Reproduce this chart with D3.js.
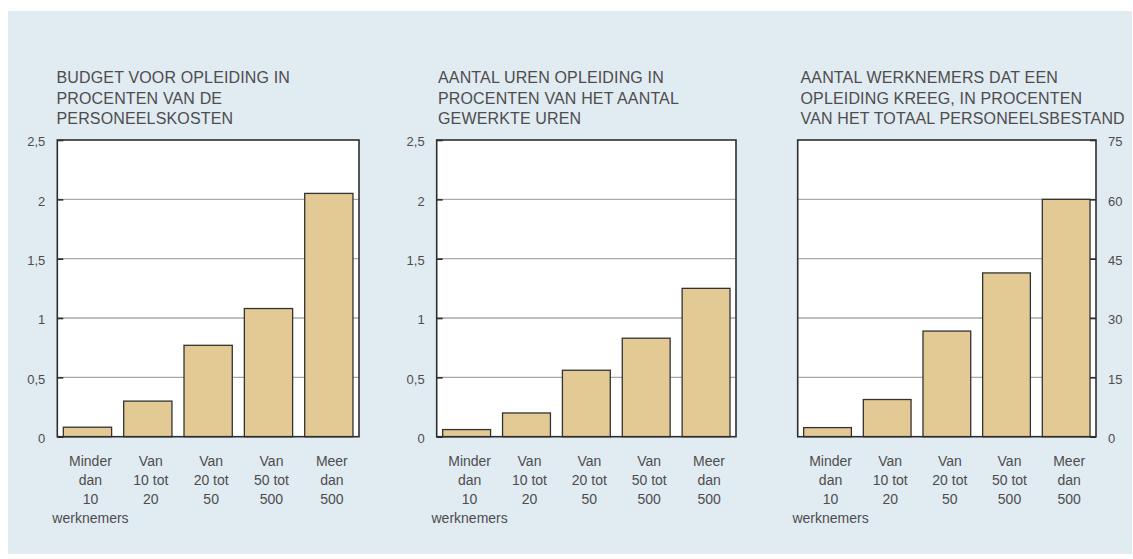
<!DOCTYPE html>
<html>
<head>
<meta charset="utf-8">
<script src="https://cdn.jsdelivr.net/npm/d3@7"></script>
<style>
  html, body { margin: 0; padding: 0; background: #ffffff; }
  svg { display: block; }
  text { font-family: "Liberation Sans", Arial, sans-serif; fill: #4d4d4d; }
</style>
</head>
<body>
<svg id="chart" width="1133" height="559"></svg>
<script>
// ---- data ----
const categories = [
  ["Minder", "dan", "10", "werknemers"],
  ["Van", "10 tot", "20"],
  ["Van", "20 tot", "50"],
  ["Van", "50 tot", "500"],
  ["Meer", "dan", "500"]
];
const budgetValues = [0.08, 0.30, 0.77, 1.08, 2.05];
const urenValues = [0.06, 0.20, 0.56, 0.83, 1.25];
const werknemersValues = [2.3, 9.4, 26.7, 41.4, 60];

const percentTicks = [0, 0.5, 1, 1.5, 2, 2.5];
const percentTickLabels = ["0", "0,5", "1", "1,5", "2", "2,5"];
const countTicks = [0, 15, 30, 45, 60, 75];
const countTickLabels = ["0", "15", "30", "45", "60", "75"];

const titleBudget = ["BUDGET VOOR OPLEIDING IN", "PROCENTEN VAN DE", "PERSONEELSKOSTEN"];
const titleUren = ["AANTAL UREN OPLEIDING IN", "PROCENTEN VAN HET AANTAL", "GEWERKTE UREN"];
const titleWerknemers = ["AANTAL WERKNEMERS DAT EEN", "OPLEIDING KREEG, IN PROCENTEN", "VAN HET TOTAAL PERSONEELSBESTAND"];

// ---- layout ----
const svg = d3.select("#chart");
svg.append("rect").attr("x", 8).attr("y", 11).attr("width", 1124).attr("height", 543)
  .attr("fill", "#e1ebf2");

const plotTop = 140, plotBottom = 436.7;

const panels = [
  { x0: 57.3, x1: 359, values: budgetValues, ticks: percentTicks, labels: percentTickLabels, title: titleBudget, side: "left", titleX: 56.5 },
  { x0: 436.7, x1: 736, values: urenValues, ticks: percentTicks, labels: percentTickLabels, title: titleUren, side: "left", titleX: 438 },
  { x0: 797.7, x1: 1096, values: werknemersValues, ticks: countTicks, labels: countTickLabels, title: titleWerknemers, side: "right", titleX: 800.5 }
];

panels.forEach(p => {
  const g = svg.append("g");
  const x = d3.scaleBand().domain(d3.range(categories.length)).range([p.x0, p.x1])
    .paddingInner(0.2).paddingOuter(0.1);
  const y = d3.scaleLinear().domain([p.ticks[0], p.ticks[p.ticks.length - 1]]).range([plotBottom, plotTop]);

  // plot background
  g.append("rect").attr("x", p.x0).attr("y", plotTop).attr("width", p.x1 - p.x0).attr("height", plotBottom - plotTop)
    .attr("fill", "#ffffff");

  // gridlines
  g.selectAll("line.grid").data(p.ticks.slice(1, -1)).join("line")
    .attr("class", "grid")
    .attr("x1", p.x0).attr("x2", p.x1)
    .attr("y1", d => y(d)).attr("y2", d => y(d))
    .attr("stroke", "#a9a9a9").attr("stroke-width", 1.3);

  // bars
  g.selectAll("rect.bar").data(p.values).join("rect")
    .attr("class", "bar")
    .attr("x", (d, i) => x(i))
    .attr("width", x.bandwidth())
    .attr("y", d => y(d))
    .attr("height", d => plotBottom - y(d))
    .attr("fill", "#e3c993")
    .attr("stroke", "#333333")
    .attr("stroke-width", 1.3);

  // frame
  g.append("rect").attr("x", p.x0).attr("y", plotTop).attr("width", p.x1 - p.x0).attr("height", plotBottom - plotTop)
    .attr("fill", "none").attr("stroke", "#2e2e2e").attr("stroke-width", 1.6);

  // y axis
  const axis = (p.side === "left" ? d3.axisLeft(y) : d3.axisRight(y))
    .tickValues(p.ticks)
    .tickFormat((d, i) => p.labels[i])
    .tickSizeInner(-6).tickSizeOuter(0).tickPadding(12);
  const ag = g.append("g")
    .attr("transform", `translate(${p.side === "left" ? p.x0 : p.x1},0)`)
    .call(axis);
  ag.select(".domain").remove();
  ag.selectAll(".tick line").attr("stroke", "#2e2e2e").attr("stroke-width", 1.6);
  ag.selectAll(".tick text")
    .attr("font-size", 13).attr("fill", "#4d4d4d")
    .attr("font-family", "Liberation Sans, Arial, sans-serif")
    .attr("dy", "0.45em");

  // category labels
  const cg = g.selectAll("text.cat").data(categories).join("text")
    .attr("class", "cat")
    .attr("text-anchor", "middle")
    .attr("font-size", 14);
  cg.each(function(lines, i) {
    d3.select(this).selectAll("tspan").data(lines).join("tspan")
      .attr("x", x(i) + x.bandwidth() / 2 + 3)
      .attr("y", (d, j) => 465.5 + j * 19)
      .text(d => d);
  });

  // title
  g.append("text").attr("font-size", 16).attr("fill", "#444").attr("letter-spacing", 0.15)
    .selectAll("tspan").data(p.title).join("tspan")
    .attr("x", p.titleX)
    .attr("y", (d, j) => 82.7 + j * 20.8)
    .text(d => d);
});
</script>
</body>
</html>
